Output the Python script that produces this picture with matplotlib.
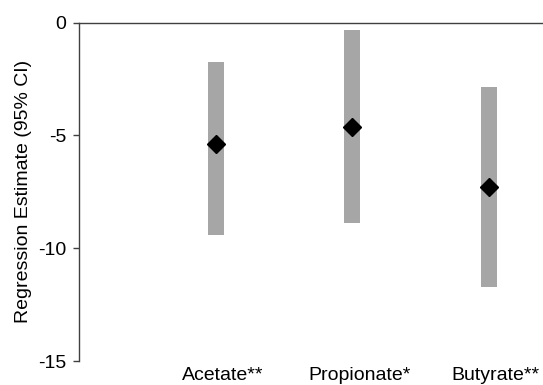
import matplotlib
matplotlib.use("Agg")
import matplotlib.pyplot as plt

categories = ["Acetate**", "Propionate*", "Butyrate**"]
estimates = [-5.39, -4.61, -7.28]
ci_low = [-9.43, -8.89, -11.70]
ci_high = [-1.73, -0.35, -2.84]
yticks = [0, -5, -10, -15]

plt.rcParams['font.family'] = ['Liberation Sans', 'DejaVu Sans']

fig = plt.figure(figsize=(5.43, 3.85), dpi=100)
ax = fig.add_axes([79/543, 1-361/385, 1-79/543, (361-22.5)/385])

pos = [1, 2, 3]
heights = [h - l for h, l in zip(ci_high, ci_low)]
ax.bar(pos, heights, bottom=ci_low, width=0.117, color="#a6a6a6", zorder=2)
ax.plot(pos, estimates, linestyle="none", marker="D", markersize=9.5,
        color="black", zorder=3)

ax.set_xlim(0, (543-79)/136.7)
ax.set_ylim(-15, 0)
ax.set_yticks(yticks)
ax.set_yticklabels([str(v) for v in yticks])
ax.set_xticks([p + 0.05 for p in pos])
ax.set_xticklabels(categories)
ax.tick_params(axis='x', length=0, pad=4, labelsize=14, colors="#000000")
ax.tick_params(axis='y', length=4, width=1, pad=5, labelsize=14, color="#404040")

for s in ["right", "bottom"]:
    ax.spines[s].set_visible(False)
for s in ["left", "top"]:
    ax.spines[s].set_color("#404040")
    ax.spines[s].set_linewidth(1.0)

ax.set_ylabel("Regression Estimate (95% CI)", fontsize=14)
ax.yaxis.set_label_coords(-0.101, 0.5)

fig.savefig("out.png", dpi=100)
